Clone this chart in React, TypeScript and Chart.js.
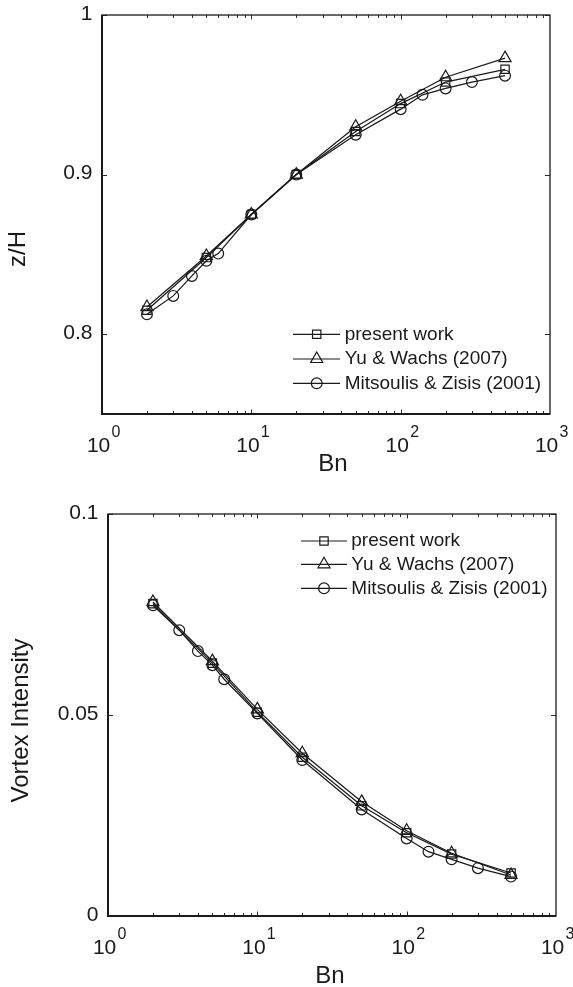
import React, { useEffect, useRef } from "react";
import { Chart, registerables } from "chart.js";

Chart.register(...registerables);

const FONT = "'Liberation Sans', Arial, Helvetica, sans-serif";
const INK = "#1a1a1a";

// Bingham numbers of each data set
const bnPresent = [2, 5, 10, 20, 50, 100, 200, 500];
const bnYu = [2, 5, 10, 20, 50, 100, 200, 500];
const bnMitsoulis = [2, 3, 4, 5, 6, 10, 20, 50, 100, 140, 200, 300, 500];

// vortex centre height z/H
const zhPresent = [0.815, 0.848, 0.875, 0.9, 0.927, 0.9445, 0.958, 0.966];
const zhYu = [0.817, 0.849, 0.875, 0.9, 0.93, 0.946, 0.961, 0.973];
const zhMitsoulis = [0.8125, 0.824, 0.8365, 0.846, 0.8505, 0.875, 0.9, 0.925, 0.941, 0.95, 0.954, 0.958, 0.962];

// vortex intensity
const viPresent = [0.0777, 0.0629, 0.0507, 0.0395, 0.0274, 0.0207, 0.0154, 0.0107];
const viYu = [0.0781, 0.0634, 0.0514, 0.0405, 0.0284, 0.0212, 0.0156, 0.0102];
const viMitsoulis = [0.0773, 0.0711, 0.0659, 0.0624, 0.0589, 0.0504, 0.0388, 0.0265, 0.0193, 0.016, 0.0141, 0.0119, 0.0098];

const seriesNames = ["present work", "Yu & Wachs (2007)", "Mitsoulis & Zisis (2001)"];
const seriesMarkers = ["rect", "triangle", "circle"];
const markerRadius = [5.9, 7, 5.4];

const xDecadeExponents = [0, 1, 2, 3];
const zhTicks = [0.8, 0.9, 1];
const zhTickLabels = ["0.8", "0.9", "1"];
const viTicks = [0, 0.05, 0.1];
const viTickLabels = ["0", "0.05", "0.1"];

function drawMarker(ctx, style, x, y, r) {
  ctx.beginPath();
  if (style === "circle") {
    ctx.arc(x, y, r, 0, Math.PI * 2);
  } else if (style === "rect") {
    const s = Math.SQRT1_2 * r;
    ctx.rect(x - s, y - s, 2 * s, 2 * s);
  } else {
    const a = (Math.PI * 2) / 3;
    ctx.moveTo(x, y - r);
    ctx.lineTo(x + Math.sin(a) * r, y - Math.cos(a) * r);
    ctx.lineTo(x + Math.sin(2 * a) * r, y - Math.cos(2 * a) * r);
    ctx.closePath();
  }
  ctx.stroke();
}

function framePlugin(spec) {
  return {
    id: "frame" + spec.key,
    afterDatasetsDraw(chart) {
      const ctx = chart.ctx;
      const { left: L, right: R, top: T, bottom: B } = chart.chartArea;
      const xs = chart.scales.x;
      const ys = chart.scales.y;
      ctx.save();
      ctx.fillStyle = INK;

      // inward ticks on all four sides
      ctx.lineWidth = 1;
      ctx.strokeStyle = "#2a2a2a";
      ctx.beginPath();
      for (let d = 0; d < 3; d++) {
        for (let m = 1; m <= 9; m++) {
          const v = m * Math.pow(10, d);
          const px = Math.round(xs.getPixelForValue(v)) + 0.5;
          const len = m === 1 ? 4.5 : 3;
          ctx.moveTo(px, B);
          ctx.lineTo(px, B - len);
          ctx.moveTo(px, T);
          ctx.lineTo(px, T + len);
        }
      }
      spec.yTicks.forEach((v) => {
        const py = Math.round(ys.getPixelForValue(v)) + 0.5;
        ctx.moveTo(L, py);
        ctx.lineTo(L + 5, py);
        ctx.moveTo(R, py);
        ctx.lineTo(R - 5, py);
      });
      ctx.stroke();

      // box
      ctx.strokeStyle = INK;
      ctx.lineWidth = 1.3;
      ctx.strokeRect(L, T, R - L, B - T);
      ctx.lineWidth = 2;
      ctx.beginPath();
      ctx.moveTo(L, T);
      ctx.lineTo(L, B);
      ctx.lineTo(R, B);
      ctx.stroke();

      // y tick labels
      ctx.font = `21px ${FONT}`;
      ctx.textAlign = "right";
      ctx.textBaseline = "middle";
      spec.yTicks.forEach((v, i) => {
        ctx.fillText(spec.yTickLabels[i], L - 9.5, ys.getPixelForValue(v) - 1);
      });

      // x tick labels: powers of ten
      ctx.textBaseline = "alphabetic";
      xDecadeExponents.forEach((e) => {
        const px = xs.getPixelForValue(Math.pow(10, e));
        ctx.font = `21px ${FONT}`;
        ctx.textAlign = "right";
        ctx.fillText("10", px + 8.3, B + 37.5);
        ctx.font = `16px ${FONT}`;
        ctx.textAlign = "left";
        ctx.fillText(String(e), px + 9.5, B + 22.5);
      });

      // axis titles
      ctx.font = `24px ${FONT}`;
      ctx.textAlign = "center";
      ctx.fillText("Bn", spec.xTitleX, spec.xTitleY);
      ctx.save();
      ctx.translate(spec.yTitleX, spec.yTitleY);
      ctx.rotate(-Math.PI / 2);
      ctx.textBaseline = "middle";
      ctx.fillText(spec.yTitle, 0, 0);
      ctx.restore();

      // legend
      ctx.lineWidth = 1.2;
      ctx.font = `19px ${FONT}`;
      ctx.textAlign = "left";
      ctx.textBaseline = "middle";
      seriesNames.forEach((name, i) => {
        const ry = spec.legendRows[i];
        ctx.beginPath();
        ctx.moveTo(spec.legendX0, ry);
        ctx.lineTo(spec.legendX1, ry);
        ctx.stroke();
        drawMarker(ctx, seriesMarkers[i], spec.legendMarkerX, ry, markerRadius[i]);
        ctx.fillText(name, spec.legendTextX, ry);
      });
      ctx.restore();
    },
  };
}

function makeDataset(i, xs, ys) {
  return {
    label: seriesNames[i],
    data: xs.map((x, k) => ({ x, y: ys[k] })),
    borderColor: INK,
    borderWidth: 1.25,
    pointStyle: seriesMarkers[i],
    pointRadius: markerRadius[i],
    pointBorderColor: INK,
    pointBorderWidth: 1.2,
    pointBackgroundColor: "rgba(0,0,0,0)",
    tension: 0,
    fill: false,
  };
}

function Panel({ spec }) {
  const ref = useRef(null);
  useEffect(() => {
    const chart = new Chart(ref.current, {
      type: "line",
      data: {
        datasets: [
          makeDataset(0, bnPresent, spec.present),
          makeDataset(1, bnYu, spec.yu),
          makeDataset(2, bnMitsoulis, spec.mitsoulis),
        ],
      },
      options: {
        responsive: false,
        animation: false,
        devicePixelRatio: 1,
        events: [],
        layout: { padding: spec.padding },
        plugins: { legend: { display: false }, tooltip: { enabled: false } },
        scales: {
          x: { type: "logarithmic", min: 1, max: 1000, display: false },
          y: { type: "linear", min: spec.yMin, max: spec.yMax, display: false },
        },
      },
      plugins: [framePlugin(spec)],
    });
    return () => chart.destroy();
  }, [spec]);
  return (
    <canvas
      ref={ref}
      width={573}
      height={spec.height}
      style={{ position: "absolute", left: 0, top: spec.top, width: 573, height: spec.height }}
    />
  );
}

const topSpec = {
  key: "zh",
  top: 0,
  height: 490,
  padding: { left: 102, top: 15, right: 23, bottom: 76 },
  yMin: 0.75,
  yMax: 1,
  present: zhPresent,
  yu: zhYu,
  mitsoulis: zhMitsoulis,
  yTicks: zhTicks,
  yTickLabels: zhTickLabels,
  yTitle: "z/H",
  yTitleX: 18.5,
  yTitleY: 249,
  xTitleX: 333,
  xTitleY: 471,
  legendX0: 293,
  legendX1: 340,
  legendMarkerX: 316.7,
  legendTextX: 344.7,
  legendRows: [334.3, 359, 383.3],
};

const bottomSpec = {
  key: "vi",
  top: 490,
  height: 497,
  padding: { left: 108, top: 24, right: 17, bottom: 71 },
  yMin: 0,
  yMax: 0.1,
  present: viPresent,
  yu: viYu,
  mitsoulis: viMitsoulis,
  yTicks: viTicks,
  yTickLabels: viTickLabels,
  yTitle: "Vortex Intensity",
  yTitleX: 21.5,
  yTitleY: 230.5,
  xTitleX: 330,
  xTitleY: 493,
  legendX0: 301,
  legendX1: 347,
  legendMarkerX: 324,
  legendTextX: 351.3,
  legendRows: [51, 74.3, 98.3],
};

export default function App() {
  return (
    <div style={{ position: "absolute", left: 0, top: 0, width: 573, height: 987, background: "#fff" }}>
      <Panel spec={topSpec} />
      <Panel spec={bottomSpec} />
    </div>
  );
}
